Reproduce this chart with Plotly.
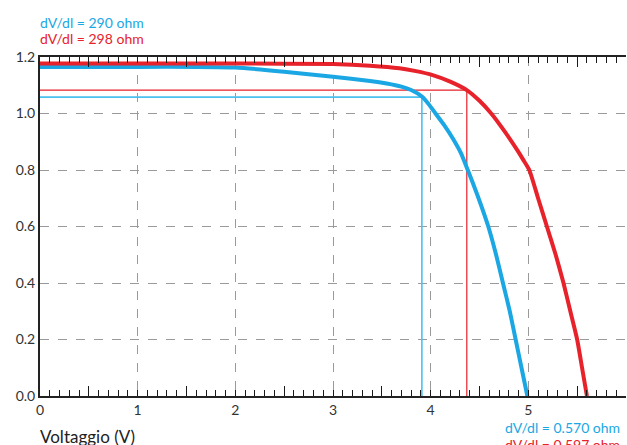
import plotly.graph_objects as go

# Blue cell I-V curve
blue_v = [0.0, 0.5, 1.0, 1.6, 2.0, 2.5, 3.0, 3.38, 3.55, 3.7, 3.8, 3.91, 3.98, 4.05, 4.14, 4.23, 4.31, 4.38, 4.48, 4.59, 4.67, 4.74, 4.81, 4.87, 4.93, 4.99]
blue_i = [1.165, 1.165, 1.165, 1.165, 1.163, 1.148, 1.130, 1.115, 1.106, 1.095, 1.083, 1.060, 1.033, 1.0, 0.958, 0.910, 0.860, 0.80, 0.71, 0.60, 0.50, 0.40, 0.30, 0.20, 0.10, 0.0]
# Red cell I-V curve
red_v = [0.0, 0.5, 1.0, 2.0, 3.0, 3.38, 3.68, 3.85, 4.02, 4.2, 4.37, 4.5, 4.62, 4.75, 4.885, 4.95, 5.01, 5.1, 5.19, 5.28, 5.36, 5.43, 5.50, 5.55, 5.60]
red_i = [1.177, 1.177, 1.177, 1.177, 1.175, 1.169, 1.160, 1.150, 1.136, 1.113, 1.083, 1.045, 1.0, 0.94, 0.871, 0.835, 0.80, 0.70, 0.60, 0.50, 0.40, 0.30, 0.20, 0.10, 0.0]

# Maximum power points
blue_mpp = (3.91, 1.058)
red_mpp = (4.37, 1.083)

x_ticks = [0, 1, 2, 3, 4, 5, 6]
y_ticks = [0.0, 0.2, 0.4, 0.6, 0.8, 1.0, 1.2]
half_ticks = [0.5, 1.5, 2.5, 3.5, 4.5, 5.5]

BLUE = "#1aa7e4"
BLUE_LIGHT = "#4cc0ee"
RED = "#e8222b"
FONT = "Lato, Roboto, sans-serif"
TICK = "#1a1a1a"

fig = go.Figure()

# MPP guide lines
fig.add_trace(go.Scatter(x=[0, blue_mpp[0], blue_mpp[0]], y=[blue_mpp[1], blue_mpp[1], 0],
                         mode="lines", line=dict(color=BLUE_LIGHT, width=1.6), hoverinfo="skip", showlegend=False))
fig.add_trace(go.Scatter(x=[0, red_mpp[0], red_mpp[0]], y=[red_mpp[1], red_mpp[1], 0],
                         mode="lines", line=dict(color=RED, width=1.2), hoverinfo="skip", showlegend=False))

# Curves
fig.add_trace(go.Scatter(x=blue_v, y=blue_i, mode="lines",
                         line=dict(color=BLUE, width=4, shape="spline", smoothing=0.5), showlegend=False))
fig.add_trace(go.Scatter(x=red_v, y=red_i, mode="lines",
                         line=dict(color=RED, width=4, shape="spline", smoothing=0.5), showlegend=False))

# dummy traces for the extra tick axes
for ax in ["x2", "x3", "x4"]:
    fig.add_trace(go.Scatter(x=[None], y=[None], xaxis=ax, showlegend=False, hoverinfo="skip"))

minor_ticks = dict(dtick=0.1, ticks="inside", ticklen=6, tickcolor=TICK, tickwidth=1.4)

fig.update_layout(
    width=627, height=445,
    margin=dict(l=40, r=1, t=57, b=49),
    paper_bgcolor="white", plot_bgcolor="white",
    font=dict(family=FONT, color="#333"),
    xaxis=dict(
        range=[0, 6], tickvals=x_ticks, ticktext=[str(v) for v in x_ticks],
        showline=True, linecolor="#222", linewidth=2, mirror=True,
        ticks="inside", ticklen=6, tickcolor=TICK, tickwidth=1.4,
        showgrid=True, gridcolor="#9a9a9a", griddash="dash", gridwidth=1,
        zeroline=False, tickfont=dict(size=14, color="#333"),
        minor=minor_ticks,
    ),
    xaxis2=dict(
        range=[0, 6], overlaying="x", anchor="y", side="bottom",
        tickvals=half_ticks, showticklabels=False, ticks="inside", ticklen=10,
        tickcolor=TICK, tickwidth=1.4, showline=False, showgrid=False, zeroline=False,
    ),
    xaxis3=dict(
        range=[0, 6], overlaying="x", anchor="y", side="top",
        tickvals=x_ticks, showticklabels=False, ticks="inside", ticklen=6,
        tickcolor=TICK, tickwidth=1.4, showline=False, showgrid=False, zeroline=False,
        minor=minor_ticks,
    ),
    xaxis4=dict(
        range=[0, 6], overlaying="x", anchor="y", side="top",
        tickvals=half_ticks, showticklabels=False, ticks="inside", ticklen=10,
        tickcolor=TICK, tickwidth=1.4, showline=False, showgrid=False, zeroline=False,
    ),
    yaxis=dict(
        range=[0, 1.2], tickvals=y_ticks, ticktext=["%.1f" % v for v in y_ticks],
        showline=True, linecolor="#222", linewidth=2,
        ticks="", showgrid=True, gridcolor="#9a9a9a", griddash="dash", gridwidth=1,
        zeroline=False, tickfont=dict(size=14, color="#333"),
    ),
    annotations=[
        dict(text="dV/dl = 290 ohm", xref="paper", yref="paper", x=-0.004, y=1.103,
             xanchor="left", yanchor="middle", showarrow=False, font=dict(size=14, color=BLUE, family=FONT)),
        dict(text="dV/dl = 298 ohm", xref="paper", yref="paper", x=-0.004, y=1.056,
             xanchor="left", yanchor="middle", showarrow=False, font=dict(size=14, color=RED, family=FONT)),
        dict(text="dV/dl = 0.570 ohm", xref="paper", yref="paper", x=0.790, y=-0.094,
             xanchor="left", yanchor="middle", showarrow=False, font=dict(size=14, color=BLUE, family=FONT)),
        dict(text="dV/dl = 0.597 ohm", xref="paper", yref="paper", x=0.790, y=-0.144,
             xanchor="left", yanchor="middle", showarrow=False, font=dict(size=14, color=RED, family=FONT)),
        dict(text="Voltaggio (V)", xref="paper", yref="paper", x=-0.003, y=-0.118,
             xanchor="left", yanchor="middle", showarrow=False, font=dict(size=17, color="#222", family=FONT)),
    ],
)

fig.write_html("out.html", config={"displayModeBar": False},
               post_script="document.body.style.margin='0';document.body.style.padding='0';")
